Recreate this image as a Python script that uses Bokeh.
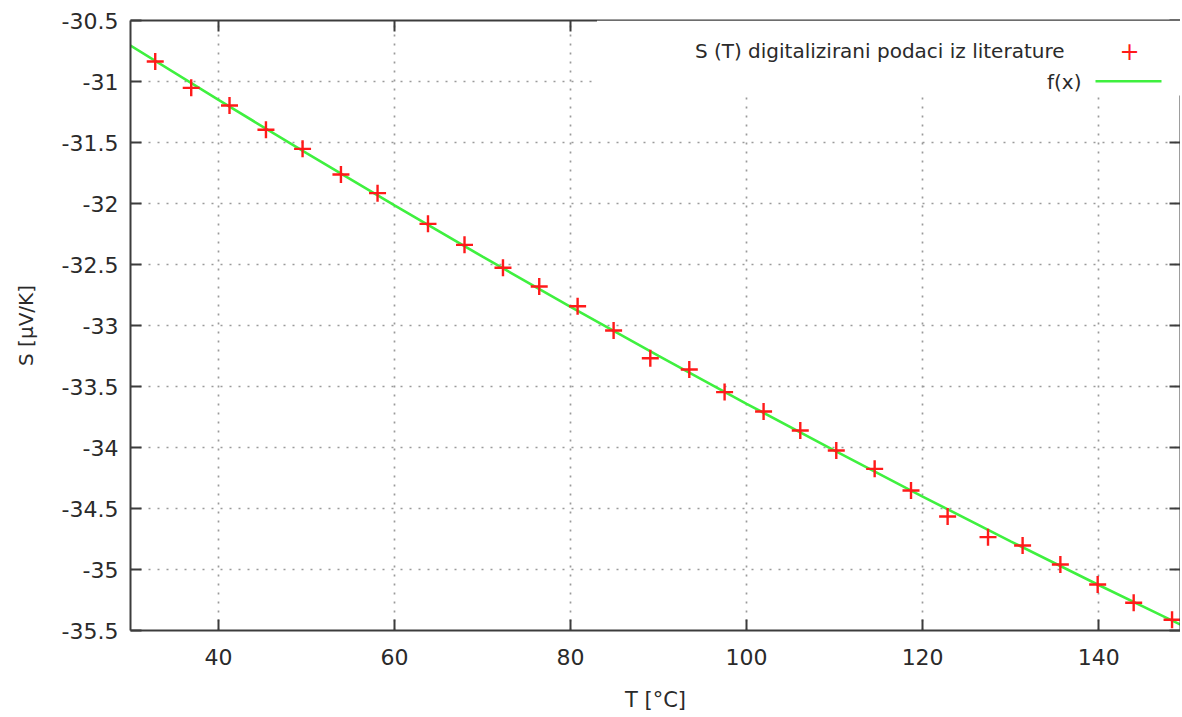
from bokeh.plotting import figure
from bokeh.models import (FixedTicker, LinearAxis, Label, BoxAnnotation, Range1d, Grid)
from bokeh.embed import file_html
from bokeh.resources import INLINE

# ---- data ----
T_data = [32.81, 36.90, 41.25, 45.39, 49.55, 53.91, 58.07, 63.80, 67.95, 72.32,
          76.44, 80.80, 84.89, 89.06, 93.49, 97.50, 101.93, 106.10, 110.19, 114.55,
          118.68, 122.84, 127.43, 131.36, 135.65, 139.89, 143.98, 148.34]
S_data = [-30.836, -31.052, -31.197, -31.396, -31.552, -31.762, -31.915, -32.167, -32.339, -32.527,
          -32.680, -32.842, -33.041, -33.268, -33.361, -33.546, -33.705, -33.861, -34.025, -34.175,
          -34.352, -34.566, -34.735, -34.803, -34.959, -35.123, -35.273, -35.412]

# fitted curve f(x)
T_fit = [30, 40, 50, 60, 70, 80, 90, 100, 110, 120, 130, 140, 150]
S_fit = [-30.705, -31.151, -31.588, -32.016, -32.436, -32.847, -33.249, -33.642,
         -34.026, -34.402, -34.769, -35.127, -35.476]

x_ticks = [40, 60, 80, 100, 120, 140]
x_tick_labels = ["40", "60", "80", "100", "120", "140"]
y_ticks = [-35.5, -35.0, -34.5, -34.0, -33.5, -33.0, -32.5, -32.0, -31.5, -31.0, -30.5]
y_tick_labels = ["-35.5", "-35", "-34.5", "-34", "-33.5", "-33", "-32.5", "-32", "-31.5", "-31", "-30.5"]

series_labels = ["S (T) digitalizirani podaci iz literature", "f(x)"]
x_label = "T [°C]"
y_label = "S [µV/K]"

FONT = "DejaVu Sans"
TXT = "#2a2a2a"
AX = "#3c3c3c"
RED = "#ff1a1a"
GREEN = "#3ff03f"

p = figure(width=1180, height=715, output_backend="svg", toolbar_location=None,
           x_range=Range1d(30, 149.3), y_range=Range1d(-35.5, -30.5),
           min_border_left=130, min_border_top=20, min_border_right=0, min_border_bottom=85,
           background_fill_color="white", border_fill_color="white")
p.outline_line_color = None
p.xaxis.visible = False
p.yaxis.visible = False
p.xgrid.visible = False
p.ygrid.visible = False

def style_axis(ax, ticks, labels, show_labels=True):
    ax.ticker = FixedTicker(ticks=ticks)
    ax.axis_line_color = AX
    ax.axis_line_width = 2
    ax.major_tick_line_color = AX
    ax.major_tick_line_width = 2
    ax.major_tick_in = 11
    ax.major_tick_out = 0
    ax.minor_tick_line_color = None
    if show_labels:
        ax.major_label_overrides = {t: l for t, l in zip(ticks, labels)}
        ax.major_label_text_font = FONT
        ax.major_label_text_color = TXT
        ax.major_label_text_font_size = "22px"
    else:
        ax.major_label_text_color = None
        ax.major_label_text_font_size = "1px"
        ax.major_label_standoff = 0

xb = LinearAxis()
style_axis(xb, x_ticks, x_tick_labels)
xb.major_label_standoff = 18
xb.axis_label = x_label
xb.axis_label_text_font = FONT
xb.axis_label_text_font_style = "normal"
xb.axis_label_text_font_size = "21px"
xb.axis_label_text_color = TXT
xb.axis_label_standoff = 20
p.add_layout(xb, "below")

yl = LinearAxis()
style_axis(yl, y_ticks, y_tick_labels)
yl.major_label_standoff = 12
yl.axis_label = y_label
yl.axis_label_text_font = FONT
yl.axis_label_text_font_style = "normal"
yl.axis_label_text_font_size = "20px"
yl.axis_label_text_color = TXT
yl.axis_label_standoff = 21
p.add_layout(yl, "left")

xt = LinearAxis()
style_axis(xt, x_ticks, x_tick_labels, show_labels=False)
p.add_layout(xt, "above")

yr = LinearAxis()
style_axis(yr, y_ticks, y_tick_labels, show_labels=False)
p.add_layout(yr, "right")

# dotted grid
for dim in (0, 1):
    g = Grid(dimension=dim, ticker=FixedTicker(ticks=x_ticks if dim == 0 else y_ticks))
    g.grid_line_color = "#9a9a9a"
    g.grid_line_width = 1.7
    g.grid_line_dash = "2 7"
    p.add_layout(g)

# data
p.line(T_fit, S_fit, line_color=GREEN, line_width=2.6)
p.scatter(T_data, S_data, marker="cross", size=17, line_color=RED, line_width=2.4)

# key (opaque box)
p.add_layout(BoxAnnotation(left=83.0, bottom=-31.114, fill_color="white", fill_alpha=1.0,
                           line_color=None))
p.add_layout(Label(x=934, y=580, x_units="screen", y_units="screen", text=series_labels[0],
                   text_font=FONT, text_font_size="20px", text_color=TXT,
                   text_align="right", text_baseline="middle"))
p.add_layout(Label(x=999, y=580, x_units="screen", y_units="screen", text="+",
                   text_font=FONT, text_font_size="24px", text_color=RED,
                   text_align="center", text_baseline="middle"))
p.add_layout(Label(x=951, y=549, x_units="screen", y_units="screen", text=series_labels[1],
                   text_font=FONT, text_font_size="20px", text_color=TXT,
                   text_align="right", text_baseline="middle"))
p.add_layout(BoxAnnotation(left=965, right=1031, bottom=548, top=550.5,
                           left_units="screen", right_units="screen",
                           bottom_units="screen", top_units="screen",
                           fill_color=GREEN, fill_alpha=1.0, line_color=None))

open("out.html", "w").write(file_html(p, INLINE))
